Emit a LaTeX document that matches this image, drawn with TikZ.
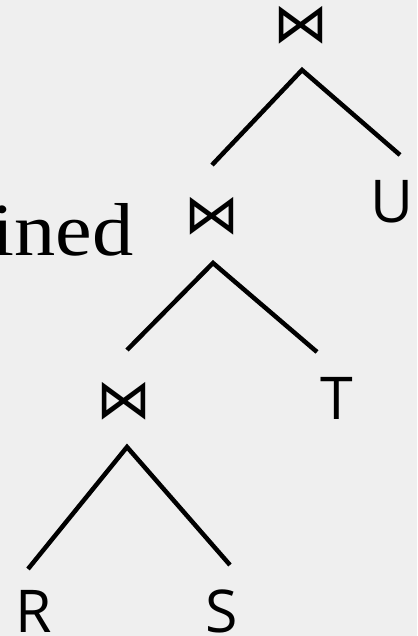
\documentclass[tikz,border=0pt]{standalone}
\usepackage{fontspec}
\setmainfont{Liberation Serif}
\newfontfamily\lettersf{Open Sans}
\newfontfamily\symsf{DejaVu Sans}
\usetikzlibrary{positioning}
\definecolor{paper}{RGB}{239,239,239}

\begin{document}
\begin{tikzpicture}[x=1pt,y=-1pt,
    joinop/.style={inner sep=0pt,font=\symsf\fontsize{55}{55}\selectfont},
    relname/.style={inner sep=0pt,font=\lettersf\fontsize{59}{59}\selectfont},
    treeline/.style={line width=4.5pt,line join=miter}]
  % page
  \fill[paper] (0,0) rectangle (417,636);
  \useasboundingbox (0,0) rectangle (417,636);
  \clip (0,0) rectangle (417,636);
  % cut-off caption
  \node[anchor=base east,inner sep=0pt,font=\fontsize{75}{75}\selectfont] (cap) at (134,255) {\scalebox{1.1}[1]{ined}};
  % joins
  \node[joinop] (j1) at (301,25) {⋈};
  \node[joinop] (j2) at (212,216) {⋈};
  \node[joinop] (j3) at (124,401) {⋈};
  % relations
  \node[relname] (u) at (392,202) {U};
  \node[relname] (t) at (337,398) {T};
  \node[relname] (r) at (34,611) {R};
  \node[relname] (s) at (222,611) {S};
  % edge ends
  \coordinate (a1) at (302,70);
  \coordinate (a2) at (213,263);
  \coordinate (a3) at (127,447);
  \coordinate (l1) at (212,165);
  \coordinate (r1) at (400,155);
  \coordinate (l2) at (127,350);
  \coordinate (r2) at (317,352);
  \coordinate (l3) at (28,569);
  \coordinate (r3) at (230,565);
  % tree
  \draw[treeline] (l1) -- (a1) -- (r1);
  \draw[treeline] (l2) -- (a2) -- (r2);
  \draw[treeline] (l3) -- (a3) -- (r3);
\end{tikzpicture}
\end{document}
